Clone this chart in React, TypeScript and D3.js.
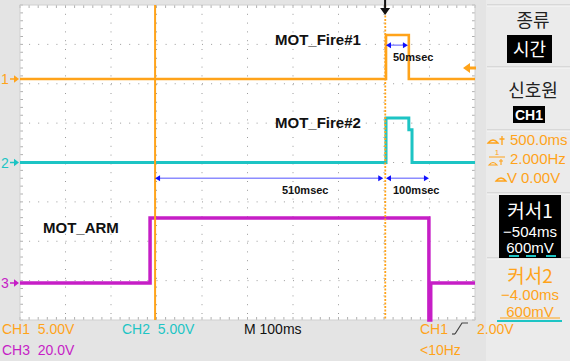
import React from "react";
import * as d3 from "d3";

// ---- data (time in ms relative to trigger, level in vertical divisions) ----
const CH1_TIME = [-800, 2, 2, 52, 52, 197];
const CH1_LEVEL = [2.12, 2.12, 3.24, 3.24, 2.12, 2.12];
const CH2_TIME = [-800, 2, 2, 52, 52, 59, 59, 197];
const CH2_LEVEL = [0.0, 0.0, 1.13, 1.13, 0.83, 0.83, 0.0, 0.0];
const CH3_TIME = [-800, -515, -515, 96, 96, 100, 100, 197];
const CH3_LEVEL = [-3.06, -3.06, -1.41, -1.41, -4.0, -4.0, -3.06, -3.06];
const CURSOR_TIMES = [-504, -4];
const TRIGGER_LEVEL = 2.4;
const LABELS = ["MOT_Fire#1", "MOT_Fire#2", "MOT_ARM"];
const SPANS = [
  { from: 2, to: 50, level: 2.98, text: "50msec" },
  { from: -504, to: -4, level: -0.4, text: "510msec" },
  { from: 2, to: 96, level: -0.4, text: "100msec" },
];
const BOTTOM_ROW1 = ["CH1  5.00V", "CH2  5.00V", "M 100ms", "CH1", "2.00V"];
const BOTTOM_ROW2 = ["CH3  20.0V", "<10Hz"];
const PANEL = {
  kind: "종류",
  kindVal: "시간",
  src: "신호원",
  srcVal: "CH1",
  dt: "500.0ms",
  freq: "2.000Hz",
  dv: "0.00V",
  c1: ["커서1", "−504ms", "600mV"],
  c2: ["커서2", "−4.00ms", "600mV"],
};

const W = 570, H = 361;
const L = 20, R = 475, T = 5, B = 320;
const ORANGE = "#ffa31a";
const CYAN = "#1dc4c4";
const MAGENTA = "#c61ec6";
const FONT = "'Liberation Sans', Arial, sans-serif";
const KFONT = "'Noto Sans CJK KR', 'Liberation Sans', sans-serif";

const x = d3.scaleLinear().domain([-800, 197]).range([L, R]);
const y = d3.scaleLinear().domain([-4, 4]).range([B, T]);
const divX = d3.scaleLinear().domain([0, 10]).range([L, R]);
const divY = d3.scaleLinear().domain([0, 8]).range([T, B]);

const line = d3
  .line<[number, number]>()
  .x((d) => x(d[0]))
  .y((d) => y(d[1]))
  .curve(d3.curveLinear);

const zip = (a: number[], b: number[]) => a.map((v, i) => [v, b[i]] as [number, number]);

function Arrow({ x1, x2, yy }: { x1: number; x2: number; yy: number }) {
  return (
    <g>
      <line x1={x1 + 3} x2={x2 - 3} y1={yy} y2={yy} stroke="#8c8cff" strokeWidth={1.5} />
      <path d={`M${x1},${yy} l5,-3 l0,6 z`} fill="#1010ff" />
      <path d={`M${x2},${yy} l-5,-3 l0,6 z`} fill="#1010ff" />
    </g>
  );
}

export default function App() {
  const majorX = d3.range(1, 10).map((i) => divX(i));
  const majorY = d3.range(1, 8).map((i) => divY(i));
  const minorX = d3.range(0, 51).map((i) => divX(i / 5));
  const minorY = d3.range(0, 41).map((i) => divY(i / 5));
  return (
    <svg width={W} height={H} style={{ position: "absolute", left: 0, top: 0 }}>
      <rect width={W} height={H} fill="#e4e4e4" />
      {/* panel background */}
      <rect x={486} y={0} width={84} height={H} fill="#ebebeb" />
      <rect x={L} y={T} width={R - L} height={B - T} fill="#ffffff" />
      {/* grid */}
      {majorX.map((gx, i) => (
        <line key={"gx" + i} x1={gx} x2={gx} y1={T} y2={B} stroke="#9a9a9a" strokeWidth={1} strokeDasharray="1 7.8" />
      ))}
      {majorY.map((gy, i) => (
        <line key={"gy" + i} x1={L} x2={R} y1={gy} y2={gy} stroke="#9a9a9a" strokeWidth={1} strokeDasharray="1 8.1" />
      ))}
      {minorX.map((mx, i) => (
        <g key={"mx" + i}>
          <line x1={mx} x2={mx} y1={T} y2={T + 3} stroke="#b0b0b0" />
          <line x1={mx} x2={mx} y1={B - 3} y2={B} stroke="#b0b0b0" />
        </g>
      ))}
      {minorY.map((my, i) => (
        <g key={"my" + i}>
          <line x1={L} x2={L + 3} y1={my} y2={my} stroke="#b0b0b0" />
          <line x1={R - 3} x2={R} y1={my} y2={my} stroke="#b0b0b0" />
        </g>
      ))}
      <rect x={L} y={T} width={R - L} height={B - T} fill="none" stroke="#d0d0d0" />

      {/* traces */}
      <clipPath id="plotclip">
        <rect x={L} y={T} width={R - L} height={B - T + 2} />
      </clipPath>
      <g clipPath="url(#plotclip)">
        <path d={line(zip(CH2_TIME, CH2_LEVEL)) || ""} fill="none" stroke={CYAN} strokeWidth={3} />
        <path d={line(zip(CH3_TIME, CH3_LEVEL)) || ""} fill="none" stroke={MAGENTA} strokeWidth={3.5} />
        <path d={line(zip(CH1_TIME, CH1_LEVEL)) || ""} fill="none" stroke={ORANGE} strokeWidth={2.6} />
        {/* cursors */}
        <line x1={x(CURSOR_TIMES[0])} x2={x(CURSOR_TIMES[0])} y1={T} y2={B} stroke={ORANGE} strokeWidth={2} />
        <line x1={x(CURSOR_TIMES[1]) + 2} x2={x(CURSOR_TIMES[1]) + 2} y1={T} y2={B} stroke={ORANGE} strokeWidth={1.8} strokeDasharray="2 1.5" />
      </g>

      {/* channel markers */}
      {[
        { n: "1", lv: CH1_LEVEL[0], c: ORANGE },
        { n: "2", lv: CH2_LEVEL[0], c: CYAN },
        { n: "3", lv: CH3_LEVEL[0], c: MAGENTA },
      ].map((m) => (
        <g key={m.n}>
          <text x={1} y={y(m.lv) + 5} fontFamily={FONT} fontSize={14} fill={m.c}>{m.n}</text>
          <path d={`M10,${y(m.lv) - 0.8} h4 v-3 l5,3.8 l-5,3.8 v-3 h-4 z`} fill={m.c} />
        </g>
      ))}
      {/* trigger level arrow */}
      <path d={`M${R - 12},${y(TRIGGER_LEVEL)} l7,-5 v3.5 h6 v3 h-6 v3.5 z`} fill={ORANGE} />
      {/* trigger position arrow */}
      <path d={`M${x(0) - 1},0 h2 v8 h4 l-5,7 l-5,-7 h4 z`} fill="#111" />

      {/* annotations */}
      <text x={275} y={45} fontFamily={FONT} fontWeight="bold" fontSize={15} fill="#111">{LABELS[0]}</text>
      <text x={275} y={128} fontFamily={FONT} fontWeight="bold" fontSize={15} fill="#111">{LABELS[1]}</text>
      <text x={43} y={233} fontFamily={FONT} fontWeight="bold" fontSize={15} fill="#111">{LABELS[2]}</text>
      {SPANS.map((s, i) => (
        <g key={"sp" + i}>
          <Arrow x1={x(s.from)} x2={x(s.to)} yy={y(s.level)} />
        </g>
      ))}
      <text x={393} y={61} fontFamily={FONT} fontWeight="bold" fontSize={11} fill="#111">{SPANS[0].text}</text>
      <text x={282} y={194} fontFamily={FONT} fontWeight="bold" fontSize={11} fill="#111">{SPANS[1].text}</text>
      <text x={393} y={194} fontFamily={FONT} fontWeight="bold" fontSize={11} fill="#111">{SPANS[2].text}</text>

      {/* bottom status */}
      <text x={2} y={334} fontFamily={FONT} fontSize={14} fill={ORANGE} xmlSpace="preserve">{BOTTOM_ROW1[0]}</text>
      <text x={122} y={334} fontFamily={FONT} fontSize={14} fill={CYAN} xmlSpace="preserve">{BOTTOM_ROW1[1]}</text>
      <text x={244} y={334} fontFamily={FONT} fontSize={14} fill="#111" xmlSpace="preserve">{BOTTOM_ROW1[2]}</text>
      <text x={420} y={334} fontFamily={FONT} fontSize={14} fill={ORANGE}>{BOTTOM_ROW1[3]}</text>
      <path d="M455,334 L462,323 H468" fill="none" stroke="#444" strokeWidth={1.2} />
      <path d="M455,334 h-3" fill="none" stroke="#444" strokeWidth={1.2} />
      <text x={477} y={334} fontFamily={FONT} fontSize={14} fill={ORANGE}>{BOTTOM_ROW1[4]}</text>
      <text x={2} y={355} fontFamily={FONT} fontSize={14} fill={MAGENTA} xmlSpace="preserve">{BOTTOM_ROW2[0]}</text>
      <text x={420} y={355} fontFamily={FONT} fontSize={14} fill={ORANGE}>{BOTTOM_ROW2[1]}</text>

      {/* right panel */}
      {[5, 67, 130, 193, 258].map((sy, i) => (
        <g key={"sep" + i}>
          <line x1={487} x2={570} y1={sy} y2={sy} stroke="#c4c4c4" />
          <line x1={487} x2={570} y1={sy + 1} y2={sy + 1} stroke="#f8f8f8" />
        </g>
      ))}
      <text x={533} y={27} textAnchor="middle" fontFamily={KFONT} fontSize={18} fill="#222">{PANEL.kind}</text>
      <rect x={507} y={35} width={45} height={28} fill="#000" />
      <text x={529.5} y={56} textAnchor="middle" fontFamily={KFONT} fontSize={18} fill="#fff">{PANEL.kindVal}</text>
      <text x={533} y={97} textAnchor="middle" fontFamily={KFONT} fontSize={18} fill="#222">{PANEL.src}</text>
      <rect x={513} y={106} width={32} height={17} fill="#000" />
      <text x={529} y={120} textAnchor="middle" fontFamily={FONT} fontWeight="bold" fontSize={14} fill="#fff">{PANEL.srcVal}</text>

      <path d="M488,143 q5,-6 10,0 z" fill="none" stroke={ORANGE} strokeWidth={1.3} />
      <path d="M502,136 v9 M499.5,139 h5" fill="none" stroke={ORANGE} strokeWidth={1.3} />
      <text x={510} y={145} fontFamily={FONT} fontSize={15} fill={ORANGE}>{PANEL.dt}</text>
      <text x={497} y={155} textAnchor="middle" fontFamily={FONT} fontSize={8} fill={ORANGE}>1</text>
      <line x1={489} x2={505} y1={157} y2={157} stroke={ORANGE} strokeWidth={1} />
      <path d="M489,165 q4,-5 8,0 z" fill="none" stroke={ORANGE} strokeWidth={1.2} />
      <path d="M501,159 v6 M499,161 h4" fill="none" stroke={ORANGE} strokeWidth={1.1} />
      <text x={510} y={164} fontFamily={FONT} fontSize={15} fill={ORANGE}>{PANEL.freq}</text>
      <path d="M496,181 q5,-6 10,0 z" fill="none" stroke={ORANGE} strokeWidth={1.3} />
      <text x={507} y={183} fontFamily={FONT} fontSize={15} fill={ORANGE}>V</text>
      <text x={521} y={183} fontFamily={FONT} fontSize={15} fill={ORANGE}>{PANEL.dv}</text>

      <rect x={499} y={195} width={62} height={63} fill="#000" />
      <text x={530} y={218} textAnchor="middle" fontFamily={KFONT} fontSize={19} fill="#fff">{PANEL.c1[0]}</text>
      <text x={530} y={237} textAnchor="middle" fontFamily={FONT} fontSize={15} fill="#fff">{PANEL.c1[1]}</text>
      <text x={530} y={253} textAnchor="middle" fontFamily={FONT} fontSize={15} fill="#fff">{PANEL.c1[2]}</text>
      {[509, 526, 546].map((cx, i) => (
        <line key={"cd" + i} x1={cx} x2={cx + 10} y1={256} y2={256} stroke={CYAN} strokeWidth={2} />
      ))}
      <text x={530} y={283} textAnchor="middle" fontFamily={KFONT} fontSize={19} fill={ORANGE}>{PANEL.c2[0]}</text>
      <text x={530} y={300} textAnchor="middle" fontFamily={FONT} fontSize={15} fill={ORANGE}>{PANEL.c2[1]}</text>
      <text x={530} y={317} textAnchor="middle" fontFamily={FONT} fontSize={15} fill={ORANGE}>{PANEL.c2[2]}</text>
      <line x1={500} x2={560} y1={318} y2={318} stroke={ORANGE} strokeWidth={1} />
      <line x1={497} x2={562} y1={321} y2={321} stroke={CYAN} strokeWidth={2} />
    </svg>
  );
}
